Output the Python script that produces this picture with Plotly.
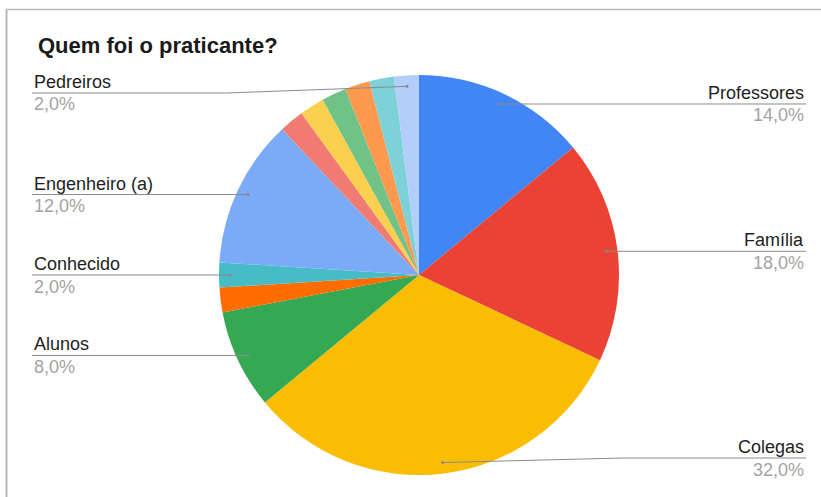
import math
import plotly.graph_objects as go

# ---- data ----
labels = ["Professores", "Família", "Colegas", "Alunos", "Outro A", "Conhecido",
          "Engenheiro (a)", "Outro B", "Outro C", "Outro D", "Outro E", "Outro F", "Pedreiros"]
values = [14, 18, 32, 8, 2, 2, 12, 2, 2, 2, 2, 2, 2]
colors = ["#4285F4", "#EA4335", "#FBBC04", "#34A853", "#FF6D01", "#46BDC6",
          "#7BAAF7", "#F07B72", "#FCD04F", "#71C287", "#FF994D", "#7ED1D7", "#B3CEFB"]
shown = ["Professores", "Família", "Colegas", "Alunos", "Conhecido", "Engenheiro (a)", "Pedreiros"]
title = "Quem foi o praticante?"

# ---- layout constants ----
W, H = 821, 497
CX, CY, R = 419, 275, 200
label_line_y = {"Colegas": 458, "Pedreiros": 93}
right_x, left_x = 806, 32
FONT = "Liberation Sans, Arial"

def px(x):
    return x / W

def py(y):
    return 1 - y / H

fig = go.Figure(go.Pie(
    labels=labels, values=values, sort=False, direction="clockwise", rotation=0,
    marker=dict(colors=colors, line=dict(width=0)),
    textinfo="none", hoverinfo="label+percent", showlegend=False,
    domain=dict(x=[px(CX - R), px(CX + R)], y=[py(CY + R), py(CY - R)]),
))

shapes = []
annotations = []
total = sum(values)
cum = 0
for lab, v in zip(labels, values):
    mid = (cum + v / 2) / total * 2 * math.pi
    cum += v
    if lab not in shown:
        continue
    dx = CX + 0.945 * R * math.sin(mid)
    dy = CY - 0.945 * R * math.cos(mid)
    ly = label_line_y.get(lab, dy)
    right = math.sin(mid) > 0
    ex = right_x if right else left_x
    if abs(ly - dy) > 1:
        kx = dx + (180 if right else -180)
        shapes.append(dict(type="line", xref="paper", yref="paper",
                           x0=px(dx), y0=py(dy), x1=px(kx), y1=py(ly),
                           line=dict(color="#8a8a8a", width=1)))
        shapes.append(dict(type="line", xref="paper", yref="paper",
                           x0=px(kx), y0=py(ly), x1=px(ex), y1=py(ly),
                           line=dict(color="#8a8a8a", width=1)))
    else:
        shapes.append(dict(type="line", xref="paper", yref="paper",
                           x0=px(dx), y0=py(ly), x1=px(ex), y1=py(ly),
                           line=dict(color="#8a8a8a", width=1)))
    shapes.append(dict(type="circle", xref="paper", yref="paper",
                       x0=px(dx - 1.5), x1=px(dx + 1.5), y0=py(dy + 1.5), y1=py(dy - 1.5),
                       fillcolor="#888888", line=dict(width=0)))
    anchor = "right" if right else "left"
    annotations.append(dict(text=lab, xref="paper", yref="paper", x=px(ex), y=py(ly + 1),
                            xanchor=anchor, yanchor="bottom", showarrow=False,
                            font=dict(family=FONT, size=18, color="#1e1e1e")))
    annotations.append(dict(text=f"{v:.1f}%".replace(".", ","), xref="paper", yref="paper",
                            x=px(ex), y=py(ly - 0.5), xanchor=anchor, yanchor="top", showarrow=False,
                            font=dict(family=FONT, size=18, color="#a3a3a3")))

annotations.append(dict(text=f"<b>{title}</b>", xref="paper", yref="paper", x=px(36), y=py(46),
                        xanchor="left", yanchor="middle", showarrow=False,
                        font=dict(family=FONT, size=22, color="#1a1a1a")))

# frame lines
shapes.append(dict(type="line", xref="paper", yref="paper", x0=px(6), x1=1, y0=py(9.5), y1=py(9.5),
                   line=dict(color="#b8b8b8", width=1.5)))
shapes.append(dict(type="line", xref="paper", yref="paper", x0=px(6.5), x1=px(6.5), y0=py(9.5), y1=0,
                   line=dict(color="#b8b8b8", width=2)))

fig.update_layout(width=W, height=H, margin=dict(l=0, r=0, t=0, b=0),
                  paper_bgcolor="white", plot_bgcolor="white",
                  shapes=shapes, annotations=annotations)
fig.write_html("out.html")
